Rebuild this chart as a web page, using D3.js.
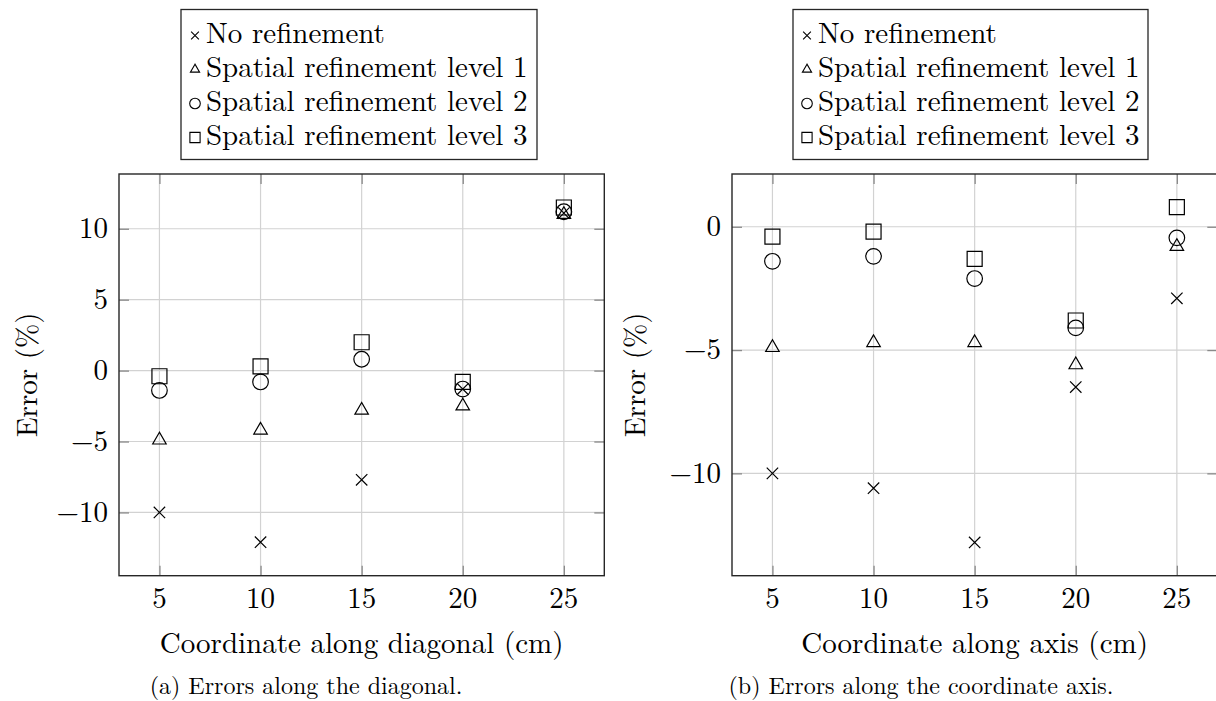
<!DOCTYPE html>
<html>
<head>
<meta charset="utf-8">
<script src="https://cdn.jsdelivr.net/npm/d3@7"></script>
<style>
  html, body { margin: 0; padding: 0; background: #fff; }
  svg { display: block; }
</style>
</head>
<body>
<svg id="chart" width="1216" height="701"></svg>
<script>
// ---------------- data ----------------
const xValues = [5, 10, 15, 20, 25];
const seriesNames = ["No refinement", "Spatial refinement level 1", "Spatial refinement level 2", "Spatial refinement level 3"];
const seriesMarkers = ["cross", "triangle", "circle", "square"];

// (a) along the diagonal
const diagNoRef  = [-10.0, -12.1, -7.7, -1.3, 11.1];
const diagLevel1 = [-4.9, -4.2, -2.8, -2.5, 11.0];
const diagLevel2 = [-1.4, -0.8, 0.8, -1.3, 11.2];
const diagLevel3 = [-0.4, 0.3, 2.0, -0.8, 11.5];

// (b) along the coordinate axis
const axisNoRef  = [-10.0, -10.6, -12.8, -6.5, -2.9];
const axisLevel1 = [-4.9, -4.7, -4.7, -5.6, -0.8];
const axisLevel2 = [-1.4, -1.2, -2.1, -4.1, -0.45];
const axisLevel3 = [-0.4, -0.2, -1.3, -3.8, 0.8];

const xTicks = [5, 10, 15, 20, 25];
const diagYTicks = [-10, -5, 0, 5, 10];
const axisYTicks = [-10, -5, 0];

const xLabelDiag = "Coordinate along diagonal (cm)";
const xLabelAxis = "Coordinate along axis (cm)";
const yLabel = "Error (%)";
const captionA = "(a) Errors along the diagonal.";
const captionB = "(b) Errors along the coordinate axis.";

// ---------------- drawing ----------------
const FAMILY = '"Latin Modern Roman"';
const svg = d3.select("#chart");
const FONT = 29, CAP_FONT = 24;

function txt(sel) { return sel.style("font-family", FAMILY).attr("fill", "#000"); }

function markerPath(type, s) {
  const p = d3.path();
  if (type === "cross") {
    const h = 5.7 * s;
    p.moveTo(-h, -h); p.lineTo(h, h); p.moveTo(-h, h); p.lineTo(h, -h);
  } else if (type === "triangle") {
    const r = 7.8 * s;
    p.moveTo(0, -r); p.lineTo(-0.866 * r, 0.5 * r); p.lineTo(0.866 * r, 0.5 * r); p.closePath();
  } else if (type === "circle") {
    const r = 7.8 * s;
    p.moveTo(r, 0); p.arc(0, 0, r, 0, 2 * Math.PI);
  } else if (type === "square") {
    const h = 7.5 * s;
    p.rect(-h, -h, 2 * h, 2 * h);
  }
  return p.toString();
}

function drawPanel(cfg) {
  const g = svg.append("g");
  const x = d3.scaleLinear().domain(cfg.xDomain).range([cfg.left, cfg.right]);
  const y = d3.scaleLinear().domain(cfg.yDomain).range([cfg.bottom, cfg.top]);

  // grid
  g.append("g").selectAll("line").data(xTicks).join("line")
    .attr("x1", d => x(d)).attr("x2", d => x(d))
    .attr("y1", cfg.top).attr("y2", cfg.bottom)
    .attr("stroke", "#d2d2d2").attr("stroke-width", 1.2);
  g.append("g").selectAll("line").data(cfg.yTicks).join("line")
    .attr("y1", d => y(d)).attr("y2", d => y(d))
    .attr("x1", cfg.left).attr("x2", cfg.right)
    .attr("stroke", "#d2d2d2").attr("stroke-width", 1.2);

  // axes via d3 axis (inside ticks, all four sides)
  const tl = 10;
  const axB = d3.axisBottom(x).tickValues(xTicks).tickFormat("").tickSizeInner(-tl).tickSizeOuter(0);
  const axT = d3.axisTop(x).tickValues(xTicks).tickFormat("").tickSizeInner(-tl).tickSizeOuter(0);
  const axL = d3.axisLeft(y).tickValues(cfg.yTicks).tickFormat("").tickSizeInner(-tl).tickSizeOuter(0);
  const axR = d3.axisRight(y).tickValues(cfg.yTicks).tickFormat("").tickSizeInner(-tl).tickSizeOuter(0);
  g.append("g").attr("transform", `translate(0,${cfg.bottom})`).call(axB);
  g.append("g").attr("transform", `translate(0,${cfg.top})`).call(axT);
  g.append("g").attr("transform", `translate(${cfg.left},0)`).call(axL);
  g.append("g").attr("transform", `translate(${cfg.right},0)`).call(axR);
  g.selectAll(".domain").remove();
  g.selectAll(".tick line").attr("stroke", "#8a8a8a").attr("stroke-width", 1.3);

  // frame
  g.append("rect")
    .attr("x", cfg.left).attr("y", cfg.top)
    .attr("width", cfg.right - cfg.left).attr("height", cfg.bottom - cfg.top)
    .attr("fill", "none").attr("stroke", "#262626").attr("stroke-width", 1.4);

  // tick labels
  const fmt = d3.format("d");
  g.append("g").selectAll("text").data(xTicks).join("text")
    .attr("x", d => x(d)).attr("y", cfg.bottom + 32)
    .attr("text-anchor", "middle").attr("font-size", FONT)
    .call(txt).text(d => fmt(d));
  g.append("g").selectAll("text").data(cfg.yTicks).join("text")
    .attr("x", cfg.left - 11).attr("y", d => y(d)).attr("dy", "0.32em")
    .attr("text-anchor", "end").attr("font-size", FONT)
    .call(txt).text(d => fmt(d));

  // axis labels
  g.append("text")
    .attr("x", (cfg.left + cfg.right) / 2).attr("y", cfg.bottom + 77)
    .attr("text-anchor", "middle").attr("font-size", FONT)
    .call(txt).text(cfg.xLabel);
  g.append("text")
    .attr("transform", `translate(${cfg.yLabelX},${(cfg.top + cfg.bottom) / 2}) rotate(-90)`)
    .attr("dy", "0.34em")
    .attr("text-anchor", "middle").attr("font-size", FONT)
    .call(txt).text(yLabel);

  // data
  cfg.series.forEach((vals, i) => {
    g.append("g").selectAll("path").data(vals).join("path")
      .attr("transform", (d, j) => `translate(${x(xValues[j])},${y(d)})`)
      .attr("d", markerPath(seriesMarkers[i], 1))
      .attr("fill", "none").attr("stroke", "#000").attr("stroke-width", 1.2);
  });

  // legend
  const lg = svg.append("g");
  const lx0 = cfg.legendLeft, ly0 = 9.5, lw = cfg.legendWidth, lh = 150;
  lg.append("rect").attr("x", lx0).attr("y", ly0).attr("width", lw).attr("height", lh)
    .attr("fill", "#fff").attr("stroke", "#262626").attr("stroke-width", 1.3);
  seriesNames.forEach((name, i) => {
    const cy = ly0 + 24 + i * 34;
    lg.append("path").attr("transform", `translate(${lx0 + 14},${cy + 2})`)
      .attr("d", markerPath(seriesMarkers[i], 0.68))
      .attr("fill", "none").attr("stroke", "#000").attr("stroke-width", 1.1);
    lg.append("text").attr("x", lx0 + 25).attr("y", cy).attr("dy", "0.34em")
      .attr("font-size", FONT).call(txt).text(name);
  });

  // caption
  svg.append("text").attr("x", cfg.captionX).attr("y", 694)
    .attr("text-anchor", "middle").attr("font-size", CAP_FONT).call(txt).text(cfg.caption);
}

drawPanel({
  left: 119, right: 604.3, top: 174, bottom: 575.7,
  xDomain: [3, 27], yDomain: [-14.46, 13.86], yTicks: diagYTicks,
  series: [diagNoRef, diagLevel1, diagLevel2, diagLevel3],
  xLabel: xLabelDiag, yLabelX: 27,
  legendLeft: 181, legendWidth: 356,
  caption: captionA, captionX: 306
});
drawPanel({
  left: 732, right: 1217.3, top: 174, bottom: 575.7,
  xDomain: [3, 27], yDomain: [-14.15, 2.14], yTicks: axisYTicks,
  series: [axisNoRef, axisLevel1, axisLevel2, axisLevel3],
  xLabel: xLabelAxis, yLabelX: 635,
  legendLeft: 793, legendWidth: 355,
  caption: captionB, captionX: 921
});
</script>
</body>
</html>
